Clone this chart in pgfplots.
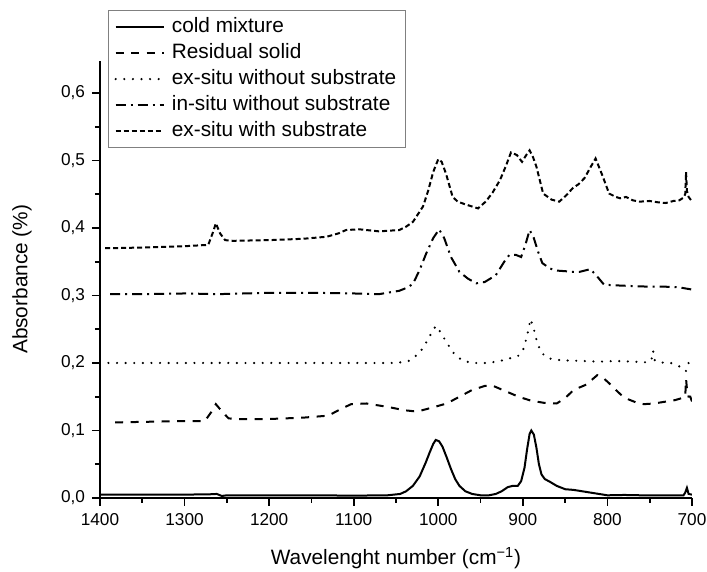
\documentclass[border=0pt]{standalone}
\usepackage{pgfplots}
\pgfplotsset{compat=1.18}
\usepackage{fontspec}
\setmainfont{Liberation Sans}
\begin{document}
\begin{tikzpicture}
\useasboundingbox (-50pt,-37pt) rectangle (303.5pt,249pt);
\begin{axis}[
  at={(0pt,0pt)}, anchor=south west,
  scale only axis, width=296pt, height=218.7pt,
  xmin=700, xmax=1400, x dir=reverse, ymin=0, ymax=0.648,
  axis x line*=bottom, axis y line*=left,
  xtick={700,800,...,1400}, minor x tick num=1,
  ytick={0,0.1,0.2,0.3,0.4,0.5,0.6}, minor y tick num=1,
  tick align=outside, major tick length=4pt, minor tick length=2.5pt,
  every tick/.style={black, line width=0.9pt},
  axis line style={line width=1pt},
  tick label style={font=\fontsize{8.6}{10}\selectfont},
  /pgf/number format/assume math mode=true,
  yticklabel style={/pgf/number format/.cd, fixed, fixed zerofill, precision=1, use comma},
  xticklabel style={/pgf/number format/.cd, fixed, 1000 sep={}},
  xlabel={Wavelenght number (cm\textsuperscript{−1})},
  ylabel={Absorbance (\%)},
  label style={font=\fontsize{10.4}{12}\selectfont},
  xlabel style={anchor=center, at={(axis description cs:0.5,0)}, yshift=-30pt},
  ylabel style={anchor=center, at={(axis description cs:0,0.5)}, yshift=39pt},
  legend cell align=left,
  legend style={at={(axis description cs:0.0135,1.1157)}, anchor=north west,
    draw=gray, line width=0.5pt, font=\fontsize{10.4}{12}\selectfont,
    nodes={inner sep=1.5pt, text height=7.6pt, text depth=2pt},
    row sep=0.4pt, inner xsep=3pt, inner ysep=2pt},
  legend image code/.code={\draw[#1] (0pt,0pt) -- (24pt,0pt);},
  every axis plot/.append style={black, line width=1pt},
]
\addplot[solid] coordinates {
(1400,0.005) (1350,0.005) (1300,0.005) (1270,0.0055) (1262,0.006) (1256,0.003) (1250,0.004)
(1200,0.004) (1150,0.004) (1100,0.0035) (1060,0.004) (1045,0.006) (1038,0.010) (1030,0.018)
(1022,0.032) (1015,0.052) (1010,0.068) (1006,0.080) (1003,0.086) (999,0.084) (995,0.076)
(990,0.060) (985,0.043) (980,0.028) (975,0.018) (968,0.010) (960,0.006) (950,0.004) (940,0.004)
(932,0.006) (925,0.010) (918,0.016) (912,0.018) (906,0.018) (902,0.025) (898,0.045) (895,0.072)
(892,0.095) (890,0.100) (887,0.094) (884,0.075) (881,0.050) (878,0.035) (874,0.028) (868,0.024)
(860,0.018) (850,0.013) (840,0.012) (830,0.010) (820,0.008) (810,0.006) (800,0.004) (780,0.0045)
(760,0.004) (740,0.004) (720,0.004) (710,0.004) (708,0.008) (706,0.015) (704,0.006) (700,0.005)
};
\addlegendentry{\hspace{2pt}cold mixture}
\addplot[dash pattern=on 4pt off 3.75pt] coordinates {
(1382,0.112) (1340,0.113) (1300,0.114) (1276,0.114) (1268,0.128) (1263,0.139) (1257,0.130)
(1248,0.118) (1240,0.117) (1200,0.117) (1160,0.119) (1130,0.122) (1115,0.132) (1103,0.139)
(1085,0.140) (1060,0.135) (1040,0.130) (1025,0.128) (1010,0.133) (990,0.140) (975,0.150)
(960,0.160) (945,0.166) (935,0.166) (920,0.158) (905,0.150) (890,0.144) (875,0.141) (860,0.140)
(850,0.148) (840,0.160) (825,0.168) (812,0.182) (805,0.178) (798,0.170) (790,0.160) (784,0.153)
(775,0.146) (765,0.141) (757,0.139) (745,0.140) (730,0.143) (720,0.145) (712,0.148) (708,0.150)
(707,0.176) (706,0.162) (704,0.150) (702,0.150) (700,0.143)
};
\addlegendentry{\hspace{2pt}Residual solid}
\addplot[line cap=round, dash pattern=on 0pt off 4.3pt, line width=1.2pt] coordinates {
(1390,0.200) (1300,0.200) (1266,0.200) (1263,0.202) (1258,0.200) (1150,0.200) (1050,0.200)
(1035,0.203) (1025,0.212) (1018,0.222) (1010,0.240) (1003,0.255) (997,0.245) (990,0.230)
(982,0.215) (972,0.204) (960,0.200) (945,0.200) (930,0.202) (918,0.206) (906,0.210) (900,0.218)
(895,0.240) (891,0.265) (887,0.250) (883,0.230) (878,0.215) (870,0.207) (855,0.204) (830,0.203)
(810,0.202) (790,0.203) (770,0.202) (755,0.201) (748,0.204) (746,0.218) (744,0.204) (740,0.201)
(725,0.200) (715,0.195) (710,0.193) (707,0.188) (705,0.198) (702,0.204) (700,0.205)
};
\addlegendentry{\hspace{2pt}ex-situ without substrate\hspace{5.5pt}}
\addplot[dash pattern=on 5pt off 2.5pt on 1pt off 2.5pt] coordinates {
(1388,0.302) (1350,0.302) (1300,0.303) (1260,0.302) (1200,0.304) (1150,0.304) (1100,0.303)
(1070,0.302) (1046,0.307) (1038,0.311) (1030,0.317) (1022,0.338) (1014,0.363) (1006,0.385)
(999,0.398) (993,0.385) (985,0.357) (975,0.335) (965,0.325) (955,0.318) (945,0.320) (932,0.330)
(922,0.350) (916,0.360) (908,0.360) (902,0.357) (897,0.375) (892,0.397) (887,0.385) (882,0.365)
(877,0.348) (868,0.340) (861,0.337) (850,0.336) (840,0.335) (833,0.335) (820,0.339) (812,0.328)
(804,0.316) (790,0.315) (771,0.314) (750,0.313) (731,0.313) (715,0.312) (701,0.309)
};
\addlegendentry{\hspace{2pt}in-situ without substrate}
\addplot[dash pattern=on 2.5pt off 1.5pt] coordinates {
(1394,0.370) (1350,0.371) (1300,0.373) (1272,0.375) (1266,0.395) (1263,0.407) (1258,0.392)
(1252,0.382) (1243,0.381) (1200,0.382) (1160,0.384) (1132,0.387) (1118,0.392) (1109,0.397)
(1093,0.398) (1070,0.395) (1046,0.397) (1038,0.402) (1030,0.409) (1018,0.432) (1012,0.455)
(1006,0.483) (1000,0.502) (996,0.498) (991,0.481) (983,0.446) (977,0.439) (968,0.435) (953,0.429)
(944,0.439) (936,0.452) (927,0.471) (920,0.492) (914,0.512) (907,0.508) (901,0.498) (896,0.508)
(892,0.515) (888,0.505) (884,0.491) (876,0.451) (866,0.442) (857,0.439) (849,0.448) (841,0.459)
(834,0.465) (827,0.474) (820,0.490) (814,0.503) (806,0.478) (798,0.451) (790,0.446) (785,0.444)
(778,0.446) (770,0.441) (762,0.439) (750,0.440) (740,0.438) (731,0.437) (722,0.440) (715,0.441)
(710,0.445) (708,0.450) (707,0.483) (706,0.455) (704,0.446) (701,0.441)
};
\addlegendentry{\hspace{2pt}ex-situ with substrate}
\end{axis}
\end{tikzpicture}
\end{document}
